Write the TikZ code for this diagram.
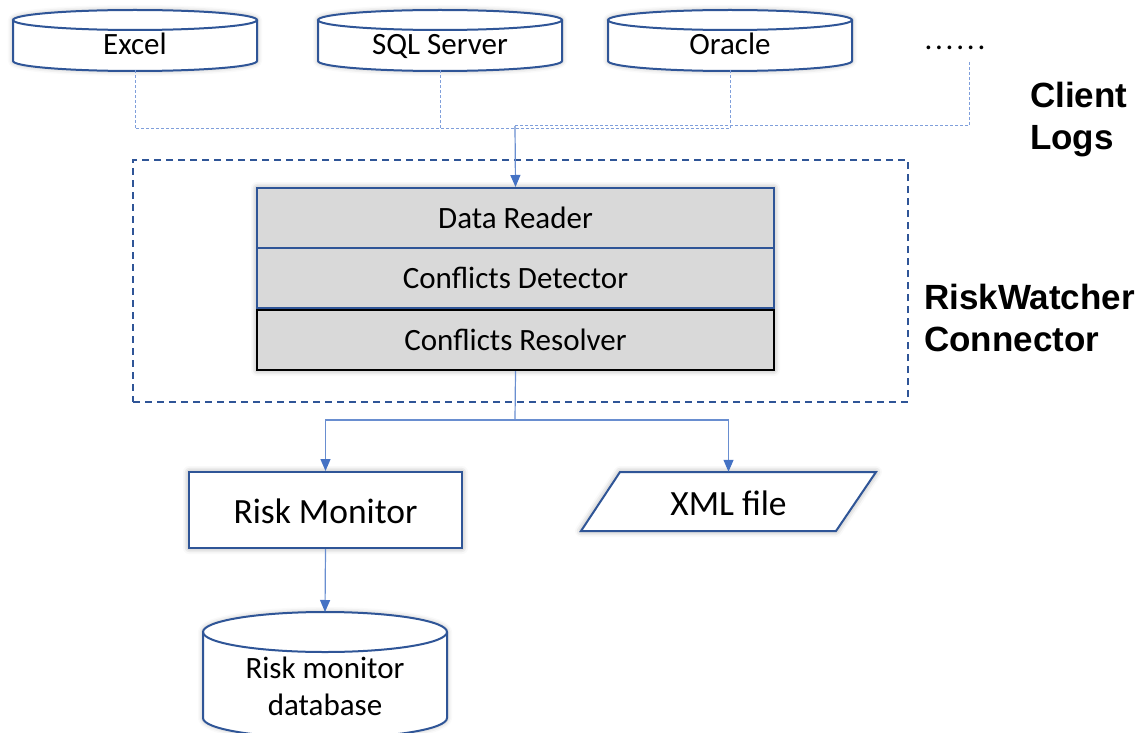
\documentclass[tikz,border=0pt]{standalone}
\usepackage{fontspec}
\setmainfont{Carlito}
\newfontfamily\headfont{Liberation Sans}
\usetikzlibrary{calc,arrows.meta,shadows.blur}

\definecolor{edge}{HTML}{2F5597}
\definecolor{link}{HTML}{4472C4}
\definecolor{linklight}{HTML}{7F9FDB}
\definecolor{panel}{HTML}{D9D9D9}

% outline of a drum (database) symbol: centre x, half width, top y, bottom y, ellipse radius
\newcommand\drumat[5]{%
  \fill[white,blur shadow={shadow xshift=0pt,shadow yshift=0pt,shadow blur radius=5pt,shadow opacity=30}]
    (#1-#2,#3) -- (#1-#2,#4) arc[start angle=180,end angle=0,x radius=#2,y radius=#5]
    -- (#1+#2,#3) arc[start angle=0,end angle=180,x radius=#2,y radius=-#5] -- cycle;
  \draw[drumline] (#1-#2,#3) -- (#1-#2,#4) arc[start angle=180,end angle=0,x radius=#2,y radius=#5] -- (#1+#2,#3);
  \draw[drumline] (#1,#3) ellipse[x radius=#2,y radius=#5];
}

\begin{document}
\begin{tikzpicture}[x=1pt,y=-1pt,
  drumline/.style={draw=edge,line width=2pt},
  body/.style={font=\fontsize{31}{37}\selectfont,inner sep=0pt,align=center},
  oneline/.style={text height=26pt,text depth=6pt},
  big/.style={font=\fontsize{35.5}{42}\selectfont,text height=34pt,text depth=7pt},
  srcnode/.style={body,oneline,minimum width=244,minimum height=50},
  layer/.style={body,oneline,fill=panel,draw=edge,line width=2pt,minimum width=517,minimum height=60},
  feed/.style={draw=linklight,line width=1pt,dash pattern=on 3pt off 2pt},
  flow/.style={draw=link!80,line width=1.2pt},
  tip/.style={-{Triangle[length=12pt,width=10pt,fill=link,color=link]}},
  zone/.style={draw=edge,line width=2pt,dash pattern=on 7pt off 5pt,minimum width=775,minimum height=242},
  head/.style={font=\headfont\bfseries\fontsize{35}{42}\selectfont,align=left,anchor=west,inner sep=0pt},
  shade/.style={blur shadow={shadow xshift=0pt,shadow yshift=0pt,shadow blur radius=6pt,shadow opacity=40}}
]
\useasboundingbox (0,0) rectangle (1145,733);

% data sources
\drumat{135}{122}{20}{61}{10}
\drumat{440}{122}{20}{61}{10}
\drumat{730}{122}{20}{61}{10}
\node[srcnode] (excel)  at (135,45) {Excel};
\node[srcnode] (sql)    at (440,45) {SQL Server};
\node[srcnode] (oracle) at (730,45) {Oracle};
\node[body,anchor=base] (more) at (955,50) {\addfontfeature{LetterSpace=9}......};
\coordinate (morefoot) at (969,62);

\node[head] (clientlogs) at (1030,120) {Client\\Logs};

% connector component
\node[zone] (zone) at (520.5,281) {};
\node[head] (rwlabel) at (924,318) {RiskWatcher\\Connector};

\fill[white,shade] (257,188) rectangle (774,370);
\node[layer] (reader)   at (515.5,218) {Data Reader};
\node[layer] (detector) at (515.5,278) {Conflicts Detector};
\node[layer,draw=black,line width=2.4pt] (resolver) at (515.5,340) {Conflicts Resolver};

% feeds from the sources
\coordinate (hubA) at (515,129);
\coordinate (hubB) at (515,126);
\draw[feed] (excel.south)  |- (hubA);
\draw[feed] (sql.south)    |- (hubA);
\draw[feed] (oracle.south) |- (hubA);
\draw[feed] (morefoot)     |- (hubB);
\draw[flow,tip] (hubB) -- (reader.north);

% outputs
\node[body,big,draw=edge,line width=2pt,fill=white,shade,
      minimum width=273,minimum height=76] (monitor) at (325.5,510) {Risk Monitor};

\fill[white,shade] (581,531) -- (620,472) -- (876,472) -- (836,531) -- cycle;
\node[body,big,minimum width=200,minimum height=59] (xml) at (728.5,501.5) {XML file};
\draw[draw=edge,line width=2pt]
  ($(xml.center)+(-147.5,29.5)$) -- ($(xml.center)+(-108.5,-29.5)$)
  -- ($(xml.center)+(147.5,-29.5)$) -- ($(xml.center)+(107.5,29.5)$) -- cycle;

\coordinate (split) at (515,420);
\draw[flow] (resolver.south) -- (split);
\draw[flow,tip] (split) -| (monitor.north);
\draw[flow,tip] (split) -| (xml.north);

% result store
\drumat{325}{122}{632}{718}{20}
\node[body,minimum width=244,minimum height=148,anchor=north] (db) at (325,612) {Risk monitor\\database};
\draw[flow,tip] (monitor.south) -- (db.north);
\end{tikzpicture}
\end{document}
